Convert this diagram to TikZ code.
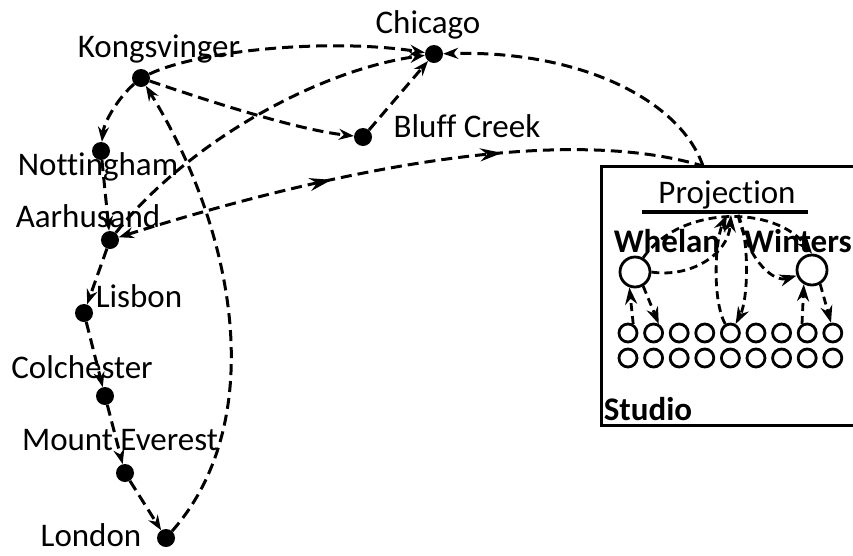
\documentclass[tikz,border=0pt]{standalone}
\usepackage{fontspec}
\setmainfont{Carlito}[Ligatures={NoCommon}]
\usetikzlibrary{arrows.meta,decorations.markings}
\begin{document}
\begin{tikzpicture}[x=1pt,y=-1pt,
  dot/.style={circle,fill=black,inner sep=0pt,minimum size=18pt},
  lbl/.style={anchor=base,inner sep=0pt,font=\fontsize{33}{39}\selectfont},
  blbl/.style={anchor=base,inner sep=0pt,font=\fontsize{33}{39}\selectfont\bfseries},
  edge/.style={line width=3pt,dash pattern=on 11pt off 6pt},
  tip/.style={-{Stealth[length=15pt,width=11pt]}},
  rtip/.style={{Stealth[length=15pt,width=11pt]}-},
  inedge/.style={line width=2.8pt,dash pattern=on 8pt off 5pt,-{Stealth[length=17pt,width=12pt]}},
  bigc/.style={circle,draw,line width=2.8pt,inner sep=0pt,minimum size=30pt},
  smallc/.style={circle,draw,line width=2.8pt,inner sep=0pt,minimum size=18pt}
]
\useasboundingbox (0,0) rectangle (853,555);
% cities
\node[dot] (K) at (141,78) {};
\node[dot] (C) at (434,54) {};
\node[dot] (B) at (363,137) {};
\node[dot] (N) at (101,151) {};
\node[dot] (A) at (110,240) {};
\node[dot] (Li) at (84,313) {};
\node[dot] (Co) at (105,396) {};
\node[dot] (M) at (125,473) {};
\node[dot] (Lo) at (166,538) {};
\node[lbl] (lK) at (159,57) {Kongsvinger};
\node[lbl] (lC) at (428,33) {Chicago};
\node[lbl] (lB) at (467,137) {Bluff Creek};
\node[lbl] (lN) at (98,175) {Nottingham};
\node[lbl] (lA) at (88,227) {Aarhusand};
\node[lbl] (lLi) at (139,307) {Lisbon};
\node[lbl] (lCo) at (82,378) {Colchester};
\node[lbl] (lM) at (120,450) {Mount Everest};
\node[lbl] (lLo) at (91,546) {London};
% studio
\draw[line width=3pt] (853,166) -| (601,425) -- (853,425);
\coordinate (studioin) at (703,166);
\node[blbl] (lS) at (648,420) {Studio};
\node[lbl] (lP) at (727,203) {Projection};
\draw[line width=4pt] (642,212) coordinate (pa) -- (808,212) coordinate (pb);
\coordinate (projc) at (731,215);
\coordinate (projl) at (727,215);
\coordinate (projr) at (738,215);
\node[blbl] (lW1) at (667,252) {Whelan};
\node[blbl] (lW2) at (798,252) {Winters};
\node[bigc] (W1) at (635,272) {};
\node[bigc] (W2) at (812,270) {};
\foreach \i in {0,...,8} {
  \node[smallc] (s\i) at ({628+25.6*\i},333) {};
  \node[smallc] (t\i) at ({628+25.6*\i},358) {};
}
% main connectors
\draw[edge,tip] (K) .. controls (118,98) and (104,122) .. (N);
\draw[edge,tip] (N) -- (A);
\draw[edge,tip] (A) -- (Li);
\draw[edge,tip] (Li) -- (Co);
\draw[edge,tip] (Co) -- (M);
\draw[edge,tip] (M) -- (Lo);
\draw[edge,tip] (Lo) .. controls (270,420) and (235,230) .. (K);
\draw[edge,tip] (K) .. controls (200,50) and (330,38) .. (C);
\draw[edge,tip] (studioin) .. controls (680,100) and (580,50) .. (C);
\draw[edge,tip] (K) .. controls (220,105) and (300,130) .. (B);
\draw[edge,tip] (B) -- (C);
\draw[edge,tip] (A) .. controls (190,140) and (320,70) .. (C);
\draw[edge,rtip,postaction={decorate},
  decoration={markings,
    mark=at position 0.37 with {\arrow{Stealth[length=22pt,width=13pt]}},
    mark=at position 0.66 with {\arrow{Stealth[length=22pt,width=13pt]}}}]
  (A) .. controls (300,180) and (550,120) .. (studioin);
% studio connectors
\draw[inedge] (s0.60) -- (W1.250);
\draw[inedge] (W1.300) -- (s1.60);
\draw[inedge] (W1.east) .. controls (690,278) and (728,255) .. (projc);
\draw[inedge] (W1.60) .. controls (680,205) and (775,205) .. (W2.north);
\draw[inedge] (projr) .. controls (750,265) and (775,282) .. (W2.200);
\draw[inedge] (s4.120) .. controls (712,300) and (715,240) .. (projl);
\draw[inedge] (projr) .. controls (750,240) and (748,300) .. (s4.60);
\draw[inedge] (s7.120) -- (W2.240);
\draw[inedge] (W2.300) -- (s8.100);
\end{tikzpicture}
\end{document}
